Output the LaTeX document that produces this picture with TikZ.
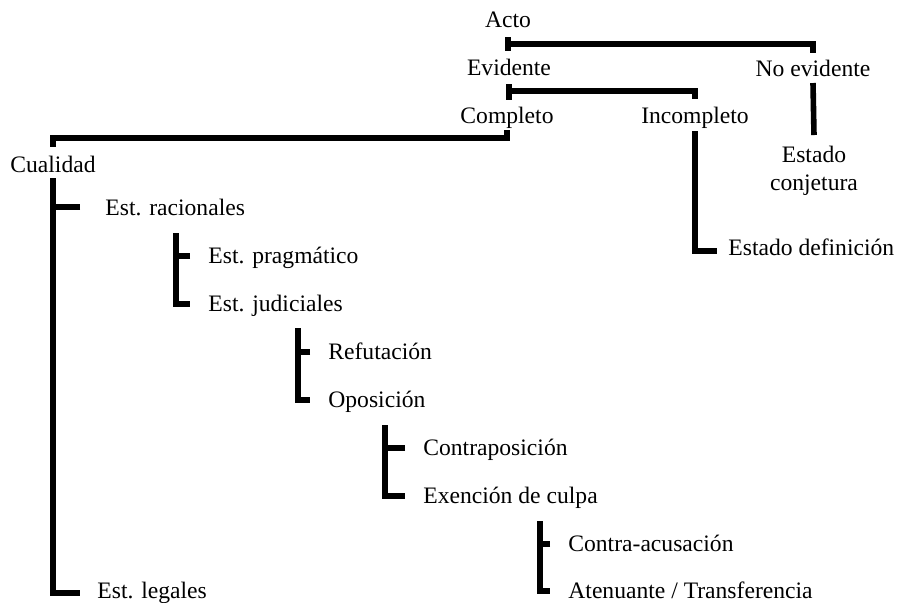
\documentclass[tikz,border=0pt]{standalone}
\usepackage{fontspec}
\setmainfont{Liberation Serif}

\begin{document}
\begin{tikzpicture}[x=0.5pt,y=-0.5pt,
    lbl/.style={inner sep=0pt,font=\fontsize{11.8}{14}\selectfont},
    br/.style={line width=2.8pt}]
    \useasboundingbox (0,0) rectangle (901,602);

    \node[lbl,anchor=base](acto)at(508,27){Acto};
    \node[lbl,anchor=base](evid)at(509,75){Evidente};
    \node[lbl,anchor=base](noev)at(813,76){No evidente};
    \node[lbl,anchor=base](comp)at(507,123){Completo};
    \node[lbl,anchor=base](incomp)at(695,123){Incompleto};
    \node[lbl,anchor=north,align=center](conj)at(814,146){Estado\\conjetura};
    \node[lbl,anchor=base west](estdef)at(728,255){Estado definición};

    \node[lbl,anchor=base west](cual)at(10,172){Cualidad};
    \node[lbl,anchor=base west](racion)at(105,215){Est. racionales};
    \node[lbl,anchor=base west](prag)at(208,263){Est. pragmático};
    \node[lbl,anchor=base west](judic)at(208,311){Est. judiciales};
    \node[lbl,anchor=base west](refut)at(328,359){Refutación};
    \node[lbl,anchor=base west](oposic)at(328,407){Oposición};
    \node[lbl,anchor=base west](contrap)at(423,455){Contraposición};
    \node[lbl,anchor=base west](exenc)at(423,503){Exención de culpa};
    \node[lbl,anchor=base west](contraac)at(568,551){Contra-acusación};
    \node[lbl,anchor=base west](atenu)at(568,598){Atenuante / Transferencia};
    \node[lbl,anchor=base west](legal)at(97,598){Est. legales};

    \draw[br](acto.base)++(0,10)--++(0,14);
    \draw[br](acto.base)++(0,17)-|([shift={(0,-23)}]noev.base);
    \draw[br](evid.base)++(0,9)--++(0,16);
    \draw[br](evid.base)++(0,16)-|([shift={(0,-24)}]incomp.base);
    \draw[br](comp.base)++(0,7)--++(0,8)-|([shift={(0,-25)}]cual.base);
    \draw[br](noev.base)++(0,7)--([shift={(0,-11)}]conj.north);
    \draw[br](incomp.base)++(0,8)|-([shift={(-11,-4)}]estdef.base west);

    \draw[br](cual.base)++(0,6)|-([shift={(-17,-5)}]legal.base west);
    \draw[br]([shift={(-25,-8)}]racion.base west)--++(-27,0);
    \draw[br]([shift={(-32,-30)}]prag.base west)|-([shift={(-18,-7)}]judic.base west);
    \draw[br]([shift={(-18,-7)}]prag.base west)--++(-14,0);
    \draw[br]([shift={(-30,-31)}]refut.base west)|-([shift={(-18,-7)}]oposic.base west);
    \draw[br]([shift={(-18,-7)}]refut.base west)--++(-12,0);
    \draw[br]([shift={(-38,-30)}]contrap.base west)|-([shift={(-18,-7)}]exenc.base west);
    \draw[br]([shift={(-18,-7)}]contrap.base west)--++(-20,0);
    \draw[br]([shift={(-28,-30)}]contraac.base west)|-([shift={(-18,-7)}]atenu.base west);
    \draw[br]([shift={(-18,-7)}]contraac.base west)--++(-10,0);
\end{tikzpicture}
\end{document}
